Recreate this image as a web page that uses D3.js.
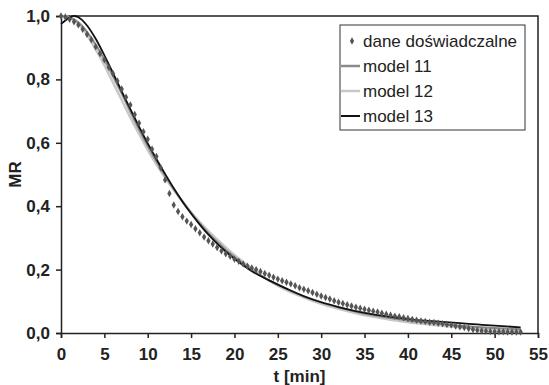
<!DOCTYPE html>
<html>
<head>
<meta charset="utf-8">
<script src="https://cdn.jsdelivr.net/npm/d3@7"></script>
<style>
  body { margin: 0; background: #fff; }
  svg { display: block; font-family: "Liberation Sans", Arial, sans-serif; }
</style>
</head>
<body>
<div id="chart"></div>
<script>
// measured points, every 0.5 min
var tData = [];
for (var i = 0; i <= 106; i++) tData.push(i * 0.5);
var mrData = [
  1.000, 0.997, 0.990, 0.982, 0.972, 0.958, 0.942, 0.925, 0.903, 0.882,
  0.862, 0.838, 0.818, 0.795, 0.770, 0.744, 0.719, 0.689, 0.662, 0.635,
  0.611, 0.580, 0.557, 0.521, 0.483, 0.440, 0.404, 0.383, 0.367, 0.353,
  0.342, 0.329, 0.316, 0.303, 0.291, 0.281, 0.270, 0.259, 0.250, 0.242,
  0.233, 0.226, 0.218, 0.211, 0.205, 0.200, 0.194, 0.188, 0.182, 0.176,
  0.170, 0.165, 0.160, 0.155, 0.149, 0.143, 0.138, 0.133, 0.128, 0.122,
  0.117, 0.112, 0.107, 0.102, 0.097, 0.093, 0.089, 0.085, 0.081, 0.078,
  0.075, 0.072, 0.069, 0.066, 0.062, 0.059, 0.056, 0.053, 0.051, 0.048,
  0.046, 0.043, 0.040, 0.038, 0.036, 0.034, 0.033, 0.031, 0.029, 0.027,
  0.025, 0.022, 0.020, 0.017, 0.014, 0.011, 0.009, 0.007, 0.006, 0.005,
  0.004, 0.004, 0.004, 0.003, 0.003, 0.003, 0.003
];

// model curves
var tModel = [0, 0.5, 1, 1.5, 2, 3, 4, 5, 6, 7, 8, 9, 10, 11, 12, 13, 14, 15, 16, 17, 18, 19, 20,
  22, 24, 26, 28, 30, 32, 34, 36, 38, 40, 42, 44, 46, 48, 50, 53];
var model11 = [1.000, 0.999, 0.995, 0.989, 0.980, 0.950, 0.910, 0.862, 0.810, 0.755, 0.698, 0.642,
  0.590, 0.541, 0.496, 0.454, 0.415, 0.379, 0.346, 0.315, 0.288, 0.262, 0.240,
  0.199, 0.166, 0.139, 0.116, 0.097, 0.081, 0.067, 0.056, 0.047, 0.039, 0.033, 0.028, 0.023, 0.019, 0.016, 0.012];
var model12 = [1.000, 0.999, 0.995, 0.987, 0.975, 0.940, 0.895, 0.845, 0.790, 0.735, 0.680, 0.628,
  0.578, 0.532, 0.490, 0.451, 0.415, 0.381, 0.350, 0.321, 0.295, 0.270, 0.246,
  0.203, 0.165, 0.135, 0.112, 0.092, 0.076, 0.062, 0.051, 0.042, 0.034, 0.028, 0.023, 0.018, 0.015, 0.012, 0.009];
var model13 = [0.975, 0.986, 0.995, 1.000, 0.996, 0.970, 0.928, 0.876, 0.820, 0.762, 0.706, 0.651,
  0.598, 0.549, 0.502, 0.457, 0.415, 0.377, 0.342, 0.310, 0.282, 0.257, 0.234,
  0.195, 0.166, 0.140, 0.116, 0.097, 0.082, 0.069, 0.059, 0.051, 0.044, 0.039, 0.035, 0.031, 0.027, 0.023, 0.018];

var xTicks = [0, 5, 10, 15, 20, 25, 30, 35, 40, 45, 50, 55];
var yTicks = [0, 0.2, 0.4, 0.6, 0.8, 1.0];
var legendLabels = ["dane doświadczalne", "model 11", "model 12", "model 13"];

var svgWidth = 549;
var svgHeight = 385;
var margin = { top: 16, right: 11, bottom: 52, left: 61 };
var width = svgWidth - margin.left - margin.right;
var height = svgHeight - margin.top - margin.bottom;

var svg = d3.select("#chart")
  .append("svg")
  .attr("width", svgWidth)
  .attr("height", svgHeight);

var chartGroup = svg.append("g")
  .attr("transform", `translate(${margin.left}, ${margin.top})`);

var xScale = d3.scaleLinear().domain([0, 55]).range([0, width]);
var yScale = d3.scaleLinear().domain([0, 1]).range([height, 0]);

var commaFmt = d => d3.format(".1f")(d).replace(".", ",");

// frame (top and right)
chartGroup.append("path")
  .attr("d", `M0,0H${width}V${height}`)
  .attr("fill", "none")
  .attr("stroke", "#222")
  .attr("stroke-width", 1.5);

var bottomAxis = d3.axisBottom(xScale).tickValues(xTicks).tickSizeOuter(0).tickSize(5).tickPadding(10);
var leftAxis = d3.axisLeft(yScale).tickValues(yTicks).tickFormat(commaFmt).tickSizeOuter(0).tickSize(5).tickPadding(6);

var xAxisG = chartGroup.append("g")
  .attr("transform", `translate(0,${height})`)
  .call(bottomAxis);
var yAxisG = chartGroup.append("g").call(leftAxis);

[xAxisG, yAxisG].forEach(function (g) {
  g.selectAll("path, line").attr("stroke", "#222").attr("stroke-width", 1.5);
  g.selectAll("text")
    .attr("fill", "#222")
    .attr("font-size", "17px")
    .attr("font-weight", "700")
    .attr("font-family", "'Liberation Sans', Arial, sans-serif");
});

// model lines
var lineFor = function (vals) {
  return d3.line()
    .x((d, i) => xScale(tModel[i]))
    .y(d => yScale(d))
    .curve(d3.curveMonotoneX)(vals);
};

var models = [
  { vals: model12, color: "#c8c8c8", w: 2.5 },
  { vals: model11, color: "#8a8a8a", w: 2 },
  { vals: model13, color: "#111", w: 1.8 }
];

models.forEach(function (m) {
  chartGroup.append("path")
    .attr("d", lineFor(m.vals))
    .attr("fill", "none")
    .attr("stroke", m.color)
    .attr("stroke-width", m.w);
});

// measured points
var diamond = d3.symbol().type(d3.symbolDiamond).size(16);
chartGroup.append("g").selectAll("path")
  .data(mrData)
  .enter()
  .append("path")
  .attr("d", diamond)
  .attr("transform", (d, i) => `translate(${xScale(tData[i])},${yScale(d)})`)
  .attr("fill", "#555");

// axis labels
svg.append("text")
  .attr("x", margin.left + width / 2)
  .attr("y", 382)
  .attr("text-anchor", "middle")
  .attr("font-size", "17px")
  .attr("font-weight", "700")
  .attr("fill", "#222")
  .text("t [min]");

svg.append("text")
  .attr("transform", `translate(21, ${margin.top + height / 2}) rotate(-90)`)
  .attr("text-anchor", "middle")
  .attr("font-size", "17px")
  .attr("font-weight", "700")
  .attr("fill", "#222")
  .text("MR");

// legend
var legend = svg.append("g").attr("transform", "translate(340, 25)");
legend.append("rect")
  .attr("width", 185)
  .attr("height", 105)
  .attr("fill", "#fff")
  .attr("stroke", "#333")
  .attr("stroke-width", 1);

var legendColors = ["#555", "#8a8a8a", "#c8c8c8", "#111"];
legendLabels.forEach(function (label, i) {
  var cy = 16 + i * 25;
  if (i === 0) {
    legend.append("path")
      .attr("d", d3.symbol().type(d3.symbolDiamond).size(16))
      .attr("transform", `translate(12,${cy})`)
      .attr("fill", legendColors[i]);
  } else {
    legend.append("line")
      .attr("x1", 1).attr("x2", 20)
      .attr("y1", cy).attr("y2", cy)
      .attr("stroke", legendColors[i])
      .attr("stroke-width", i === 3 ? 2 : 2.5);
  }
  legend.append("text")
    .attr("x", 23)
    .attr("y", cy)
    .attr("dy", "0.35em")
    .attr("font-size", "17px")
    .attr("fill", "#222")
    .text(label);
});
</script>
</body>
</html>
